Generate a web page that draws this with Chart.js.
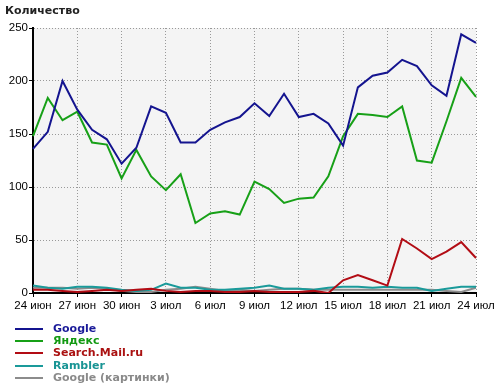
<!DOCTYPE html>
<html><head><meta charset="utf-8">
<script src="https://cdn.jsdelivr.net/npm/chart.js@4"></script>
<style>
html,body{margin:0;padding:0;background:#fff;}
#wrap{position:relative;width:500px;height:389px;font-family:"DejaVu Sans",Verdana,sans-serif;}
#title{position:absolute;left:5px;top:4px;font-size:11px;font-weight:bold;color:#222;}
.lg{position:absolute;left:15px;height:12px;font-size:11px;font-weight:bold;line-height:12px;}
.lg span.ln{position:absolute;left:0;top:5px;width:28px;height:2px;}
.lg span.tx{position:absolute;left:38px;top:0;white-space:nowrap;}
</style></head>
<body><div id="wrap"><canvas id="c" width="500" height="389"></canvas>
<div id="title">Количество</div>
<div id="legend"></div></div>
<script>
const categories = ['24 июн','25 июн','26 июн','27 июн','28 июн','29 июн','30 июн',
 '1 июл','2 июл','3 июл','4 июл','5 июл','6 июл','7 июл','8 июл','9 июл','10 июл','11 июл','12 июл',
 '13 июл','14 июл','15 июл','16 июл','17 июл','18 июл','19 июл','20 июл','21 июл','22 июл','23 июл','24 июл'];
const seriesNames = ['Google','Яндекс','Search.Mail.ru','Rambler','Google (картинки)'];
const google = [136,152,200,173,154,145,122,137,176,170,142,142,154,161,166,179,167,188,166,169,160,139,194,205,208,220,214,196,186,244,236];
const yandex = [148,184,163,171,142,140,108,135,110,97,112,66,75,77,74,105,98,85,89,90,110,148,169,168,166,176,125,123,162,203,185];
const mail = [3,3,2,1,2,3,2,3,4,2,1,2,2,1,1,2,1,1,1,2,0,12,17,12,7,51,42,32,39,48,33];
const rambler = [7,5,4,6,6,5,3,2,3,9,5,5,3,3,4,5,7,4,4,3,5,6,6,5,6,5,5,2,4,6,6];
const googleImages = [5,5,5,4,5,4,2,1,1,3,4,6,4,2,3,2,3,4,4,3,3,3,3,3,3,3,3,3,2,1,5];
const yTicks = [0,50,100,150,200,250];
const colors = ['#14148f','#17a017','#b20c14','#1a9a9a','#8c8c8c'];
const textColors = ['#1a1a99','#119911','#aa1111','#189494','#8a8a8a'];
const allSeries = [google,yandex,mail,rambler,googleImages];

const bgPlugin = {id:'bg',beforeDraw(chart){const a=chart.chartArea,ctx=chart.ctx;ctx.save();ctx.fillStyle='#f4f4f4';ctx.fillRect(a.left,a.top,a.right-a.left,a.bottom-a.top);ctx.restore();}};
const tickFont = {family:'"Liberation Sans", Arial, sans-serif',size:11.5};

new Chart(document.getElementById('c'),{
 type:'line',
 data:{labels:categories,datasets:allSeries.map((d,i)=>({label:seriesNames[i],data:d,borderColor:colors[i],backgroundColor:colors[i],borderWidth:2,pointRadius:0,tension:0,fill:false}))},
 options:{responsive:false,animation:false,
  layout:{padding:{left:0,right:24,top:28,bottom:76}},
  plugins:{legend:{display:false},tooltip:{enabled:false}},
  scales:{
   x:{type:'category',offset:false,
    afterFit(s){s.height=20;},
    grid:{color:c=>c.index%3===0?'#999':'rgba(0,0,0,0)',tickColor:c=>c.index%3===0?'#000':'rgba(0,0,0,0)',tickLength:4,tickWidth:1,drawOnChartArea:true},
    border:{display:true,color:'#000',width:2,dash:[1,2]},
    ticks:{autoSkip:false,maxRotation:0,padding:2,color:'#000',font:tickFont,
      callback:(v,i)=>i%3===0?categories[i]:''}
   },
   y:{min:0,max:250,
    afterFit(s){s.width=33;},
    afterBuildTicks(s){s.ticks=yTicks.map(v=>({value:v}));},
    grid:{color:'#999',tickColor:'#000',tickLength:4,tickWidth:1},
    border:{display:true,color:'#000',width:2,dash:[1,2]},
    ticks:{padding:1,color:'#000',font:tickFont}
   }
  }
 },
 plugins:[bgPlugin]
});

const lg=document.getElementById('legend');
const rowY=[323,335,347,360,372];
seriesNames.forEach((n,i)=>{
 const d=document.createElement('div');d.className='lg';d.style.top=rowY[i]+'px';
 d.innerHTML='<span class="ln" style="background:'+colors[i]+'"></span><span class="tx" style="color:'+textColors[i]+'">'+n+'</span>';
 lg.appendChild(d);
});
</script></body></html>
